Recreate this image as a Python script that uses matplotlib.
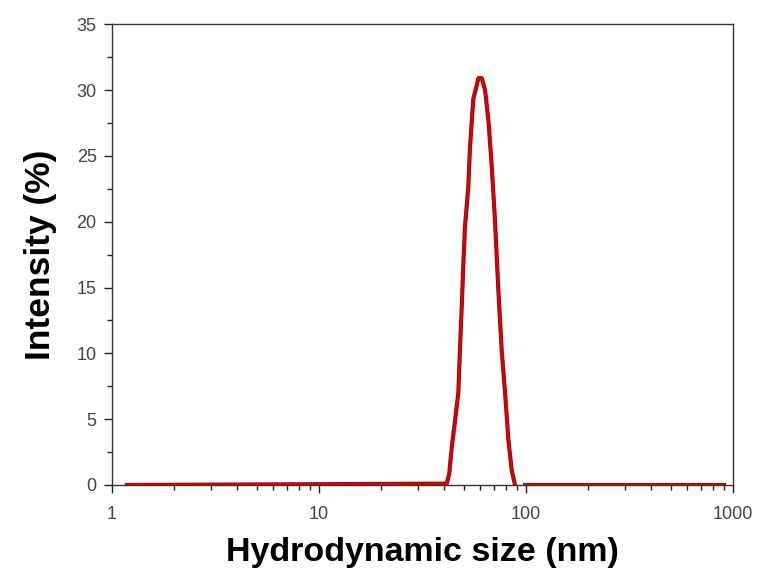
import numpy as np
import matplotlib
matplotlib.use("Agg")
import matplotlib.pyplot as plt
from matplotlib.ticker import LogLocator, MultipleLocator, FixedLocator

# DLS size distribution
size_nm = [1.18, 41.4, 42.6, 43.8, 45.4, 47.1, 48.0, 48.9, 49.8, 50.7, 52.6,
           53.6, 55.6, 58.9, 61.1, 63.4, 65.8, 68.3, 70.8, 73.5, 76.3, 79.2,
           82.2, 85.3, 88.5, 93.0, 99.0, 905.0]
intensity = [0.0, 0.1, 0.9, 2.9, 4.9, 7.0, 10.5, 13.5, 16.8, 19.6, 22.6,
             25.6, 29.3, 30.9, 30.9, 30.0, 27.7, 24.2, 20.1, 14.8, 10.2, 7.0,
             3.4, 1.1, 0.0, np.nan, 0.0, 0.0]

x_ticks = [1, 10, 100, 1000]
x_labels = ["1", "10", "100", "1000"]
y_ticks = [0, 5, 10, 15, 20, 25, 30, 35]

plt.rcParams["font.family"] = ["Liberation Sans", "DejaVu Sans"]

fig = plt.figure(figsize=(7.62, 5.76), dpi=100)
ax = fig.add_axes([0.147, 0.158, 0.815, 0.800])

ax.plot(size_nm, intensity, color="#8b1010", lw=3.0, zorder=3)
ax.plot(size_nm, intensity, color="#e00000", lw=1.6, zorder=4)

ax.set_xscale("log")
ax.set_xlim(1, 1000)
ax.set_ylim(0, 35)

ax.xaxis.set_major_locator(FixedLocator(x_ticks))
ax.set_xticklabels(x_labels)
ax.xaxis.set_minor_locator(LogLocator(base=10, subs=np.arange(2, 10)))
ax.xaxis.set_minor_formatter(plt.NullFormatter())
ax.set_yticks(y_ticks)
ax.yaxis.set_minor_locator(MultipleLocator(2.5))

ax.tick_params(which="major", direction="out", length=6, width=1.0,
               labelsize=13, labelcolor="#444444", color="#222222")
ax.tick_params(which="minor", direction="out", length=3.5, width=1.0, color="#222222")
ax.tick_params(axis="x", which="major", pad=9)
ax.tick_params(axis="y", which="major", pad=5)

for s in ax.spines.values():
    s.set_color("#333333")
    s.set_linewidth(1.0)

ax.set_xlabel("Hydrodynamic size (nm)", fontsize=24.5, fontweight="bold", labelpad=10)
ax.set_ylabel("Intensity (%)", fontsize=25.5, fontweight="bold", labelpad=14)

fig.savefig("out.png", dpi=100)
